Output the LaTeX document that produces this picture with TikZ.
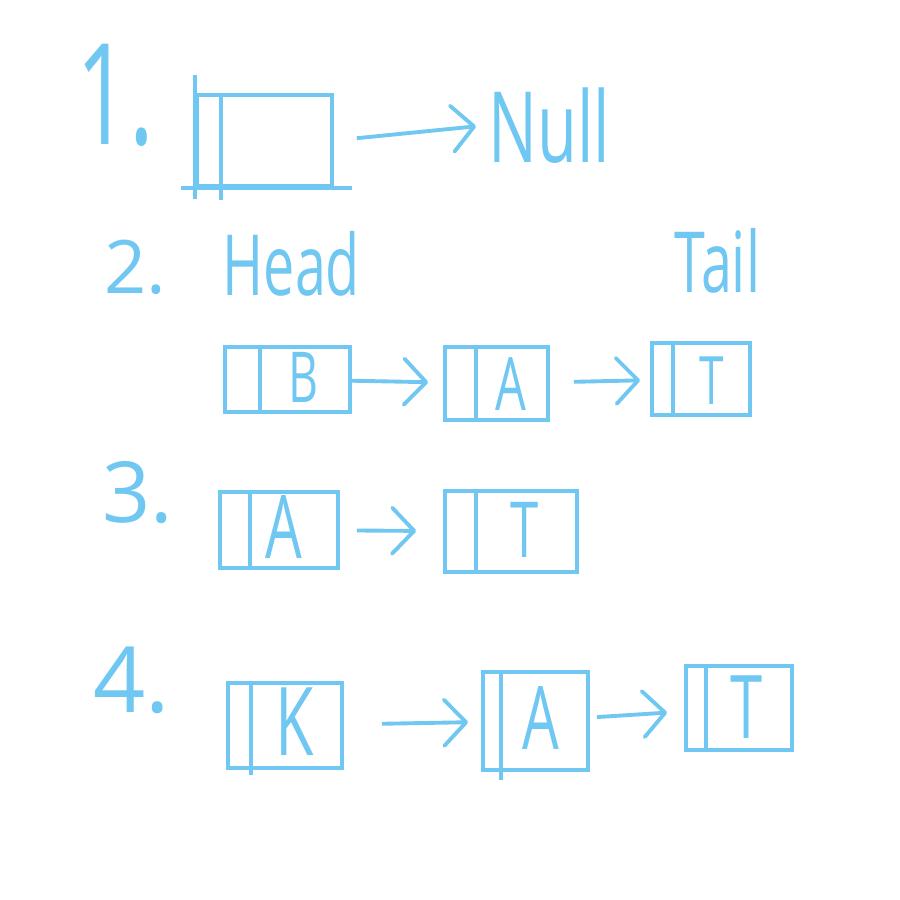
\documentclass[tikz,border=0pt]{standalone}
\usepackage{fontspec}
\setmainfont{Open Sans}
\usepackage{graphicx}
\usepackage{tikz}
\usetikzlibrary{arrows.meta,positioning}
\definecolor{sketch}{RGB}{112,200,242}
\newcommand{\hand}[1]{\scalebox{0.66}[1]{#1}}

\begin{document}
\begin{tikzpicture}[
  cell/.style={draw=sketch, line width=1.1pt, inner sep=0pt},
  divider/.style={draw=sketch, line width=1.1pt},
  letter/.style={text=sketch, inner sep=0pt},
  tag/.style={text=sketch, inner sep=0pt, anchor=base west},
  arr/.style={draw=sketch, line width=1.1pt, line join=round,
              -{Straight Barb[length=2.2mm, width=4.6mm, round]}}]
\useasboundingbox[fill=white] (0,0) rectangle (9,-9);
% --- 1. empty list ---
\node[tag, font=\fontsize{40}{44}\selectfont] (one) at (0.76,-1.44) {\hand{1.}};
\node[cell, minimum width=1.35cm, minimum height=0.91cm] (c1) at (2.645,-1.405) {};
\draw[divider] ([xshift=2.6mm]c1.north west) -- ([xshift=2.6mm, yshift=-1.2mm]c1.south west);
\draw[divider] ([yshift=1.8mm]c1.north west) -- ([yshift=-1.1mm]c1.south west);
\draw[divider] ([xshift=-1.4mm]c1.south west) -- ([xshift=1.8mm]c1.south east);
\node[tag, font=\fontsize{28}{32}\selectfont] (null) at (4.88,-1.62) {\hand{Null}};
\draw[arr, shorten <=2.3mm, shorten >=1.2mm] (c1.east) -- (null.west);
% --- 2. head and tail ---
\node[tag, font=\fontsize{21}{24}\selectfont] (two) at (1.04,-2.93) {2.};
\node[tag, font=\fontsize{24}{28}\selectfont] (head) at (2.22,-2.95) {\hand{Head}};
\node[tag, font=\fontsize{24}{28}\selectfont] (tail) at (6.74,-2.92) {\hand{Tail}};
\node[cell, minimum width=1.25cm, minimum height=0.65cm] (b2) at (2.875,-3.795) {};
\node[cell, minimum width=1.03cm, minimum height=0.73cm] (a2) at (4.965,-3.835) {};
\node[cell, minimum width=0.98cm, minimum height=0.72cm] (t2) at (7.01,-3.79) {};
\draw[divider] ([xshift=3.7mm]b2.north west) -- ([xshift=3.7mm]b2.south west);
\draw[divider] ([xshift=3.3mm]a2.north west) -- ([xshift=3.3mm]a2.south west);
\draw[divider] ([xshift=2.3mm]t2.north west) -- ([xshift=2.3mm]t2.south west);
\node[letter, font=\fontsize{20}{24}\selectfont] (b2l) at (3.04,-3.77) {\hand{B}};
\node[letter, font=\fontsize{21}{24}\selectfont] (a2l) at (5.11,-3.84) {\hand{A}};
\node[letter, font=\fontsize{19}{24}\selectfont] (t2l) at (7.12,-3.81) {\hand{T}};
\draw[arr, shorten >=1.5mm] (b2) -- (a2);
\draw[arr, shorten <=2.4mm, shorten >=1mm] (a2) -- (t2);
% --- 3. after removing the head ---
\node[tag, font=\fontsize{24}{28}\selectfont] (three) at (1.02,-5.22) {3.};
\node[cell, minimum width=1.18cm, minimum height=0.76cm] (a3) at (2.79,-5.30) {};
\node[cell, minimum width=1.32cm, minimum height=0.81cm] (t3) at (5.11,-5.315) {};
\draw[divider] ([xshift=3.2mm]a3.north west) -- ([xshift=3.2mm]a3.south west);
\draw[divider] ([xshift=3.3mm]t3.north west) -- ([xshift=3.3mm]t3.south west);
\node[letter, font=\fontsize{25}{28}\selectfont] (a3l) at (2.84,-5.27) {\hand{A}};
\node[letter, font=\fontsize{22}{26}\selectfont] (t3l) at (5.25,-5.30) {\hand{T}};
\draw[arr, shorten <=1.7mm, shorten >=2.7mm] (a3) -- (t3);
% --- 4. new head ---
\node[tag, font=\fontsize{26}{30}\selectfont] (four) at (0.93,-7.12) {4.};
\node[cell, minimum width=1.14cm, minimum height=0.85cm] (k4) at (2.85,-7.255) {};
\node[cell, minimum width=1.05cm, minimum height=0.98cm] (a4) at (5.355,-7.21) {};
\node[cell, minimum width=1.06cm, minimum height=0.84cm] (t4) at (7.39,-7.08) {};
\draw[divider] ([xshift=2.5mm]k4.north west) -- ([xshift=2.5mm, yshift=-0.5mm]k4.south west);
\draw[divider] ([xshift=2.0mm]a4.north west) -- ([xshift=2.0mm, yshift=-0.8mm]a4.south west);
\draw[divider] ([xshift=2.2mm]t4.north west) -- ([xshift=2.2mm]t4.south west);
\node[letter, font=\fontsize{27}{30}\selectfont] (k4l) at (2.95,-7.22) {\hand{K}};
\node[letter, font=\fontsize{25}{28}\selectfont] (a4l) at (5.41,-7.18) {\hand{A}};
\node[letter, font=\fontsize{25}{28}\selectfont] (t4l) at (7.47,-7.07) {\hand{T}};
\draw[arr, shorten <=3.8mm, shorten >=1.3mm] (k4) -- (a4);
\draw[arr, shorten <=0.7mm, shorten >=1.7mm] (a4) -- (t4);
\end{tikzpicture}
\end{document}
